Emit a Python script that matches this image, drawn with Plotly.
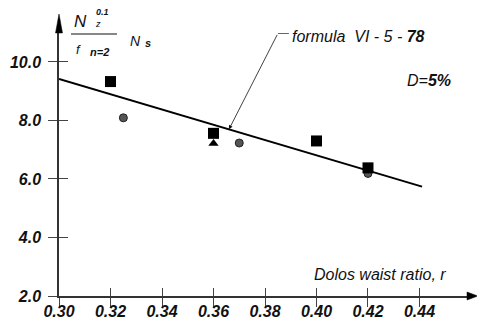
import plotly.graph_objects as go

# ---- data ----
x_ticks = [0.30, 0.32, 0.34, 0.36, 0.38, 0.40, 0.42, 0.44]
x_ticktext = ["0.30", "0.32", "0.34", "0.36", "0.38", "0.40", "0.42", "0.44"]
y_ticks = [2.0, 4.0, 6.0, 8.0, 10.0]
y_ticktext = ["2.0", "4.0", "6.0", "8.0", "10.0"]

square_x = [0.32, 0.36, 0.40, 0.42]
square_y = [9.33, 7.56, 7.30, 6.38]
circle_x = [0.325, 0.37, 0.42]
circle_y = [8.09, 7.23, 6.19]
triangle_x = [0.36]
triangle_y = [7.21]

fit_x = [0.30, 0.441]
fit_y = [9.42, 5.74]

X_RANGE = [0.30, 0.45845]
Y_RANGE = [2.0, 10.99]

FONT = "Liberation Sans, Arial, sans-serif"
ML, MR, MT, MB = 59, 10, 33, 34

fig = go.Figure()

fig.add_trace(go.Scatter(x=fit_x, y=fit_y, mode="lines",
                         line=dict(color="black", width=2), hoverinfo="skip"))
fig.add_trace(go.Scatter(x=circle_x, y=circle_y, mode="markers",
                         marker=dict(symbol="circle", size=8, color="#555555",
                                     line=dict(color="#222222", width=1))))
fig.add_trace(go.Scatter(x=triangle_x, y=triangle_y, mode="markers",
                         marker=dict(symbol="triangle-up", size=9, color="black")))
fig.add_trace(go.Scatter(x=square_x, y=square_y, mode="markers",
                         marker=dict(symbol="square", size=11, color="black")))
# invisible trace for the overlay axes (inner half of crossing ticks)
fig.add_trace(go.Scatter(x=[X_RANGE[0]], y=[Y_RANGE[0]], xaxis="x2", yaxis="y2",
                         mode="markers", marker=dict(opacity=0), hoverinfo="skip"))

tickfont = dict(family=FONT, size=16, color="#111111", style="italic", weight="bold")

fig.update_layout(
    width=477, height=330,
    margin=dict(l=ML, r=MR, t=MT, b=MB, autoexpand=False),
    paper_bgcolor="white", plot_bgcolor="white",
    showlegend=False,
    xaxis=dict(range=X_RANGE, showgrid=False, zeroline=False, automargin=False,
               showline=True, linecolor="#333333", linewidth=1.5,
               ticks="outside", ticklen=9, tickwidth=1, tickcolor="#444444",
               tickmode="array", tickvals=x_ticks, ticktext=x_ticktext,
               tickfont=tickfont, ticklabelstandoff=-9),
    yaxis=dict(range=Y_RANGE, showgrid=False, zeroline=False, automargin=False,
               showline=True, linecolor="#333333", linewidth=1.5,
               ticks="outside", ticklen=9, tickwidth=1, tickcolor="#444444",
               tickmode="array", tickvals=y_ticks, ticktext=y_ticktext,
               tickfont=tickfont, ticklabelstandoff=4),
    xaxis2=dict(overlaying="x", matches="x", anchor="y", side="bottom",
                showgrid=False, zeroline=False, showline=False,
                ticks="inside", ticklen=8, tickwidth=1, tickcolor="#444444",
                tickmode="array", tickvals=x_ticks, showticklabels=False),
    yaxis2=dict(overlaying="y", matches="y", anchor="x", side="left",
                showgrid=False, zeroline=False, showline=False,
                ticks="inside", ticklen=9, tickwidth=1, tickcolor="#444444",
                tickmode="array", tickvals=y_ticks, showticklabels=False),
)

# axis arrowheads
fig.add_shape(type="path", xref="paper", yref="paper", xsizemode="pixel", ysizemode="pixel",
              xanchor=1, yanchor=0, path="M 0,4 L 11,0 L 0,-4 Z",
              fillcolor="black", line=dict(color="black", width=0.5))
fig.add_shape(type="path", xref="paper", yref="paper", xsizemode="pixel", ysizemode="pixel",
              xanchor=0, yanchor=1, path="M -3.5,0 L 3.5,0 L 0,19 Z",
              fillcolor="black", line=dict(color="black", width=0.5))


def px_text(text, px, py, size, bold=False, xanchor="center", align="center"):
    fig.add_annotation(xref="paper", yref="paper", x=0, y=1,
                       xshift=px - ML, yshift=MT - py,
                       text=text, showarrow=False, xanchor=xanchor, yanchor="middle",
                       align=align,
                       font=dict(family=FONT, size=size, color="#111111", style="italic",
                                 weight="bold" if bold else "normal"))


# y-axis label: N_z^0.1 / f_{n=2}  N_s
px_text("N", 80, 21.5, 17)
px_text("<b>0.1</b><br>z", 93, 18, 9, xanchor="left", align="left")
fig.add_shape(type="line", xref="paper", yref="paper", xsizemode="pixel", ysizemode="pixel",
              xanchor=0, yanchor=1, x0=71 - ML, x1=117 - ML, y0=MT - 34, y1=MT - 34,
              line=dict(color="#111111", width=1))
px_text("f", 78, 49, 13)
px_text("n=2", 99.5, 52, 11, bold=True)
px_text("N", 135, 41, 14)
px_text("s", 147.5, 43, 11, bold=True)

# x-axis title
fig.add_annotation(x=0.4511, y=2.72, xref="x", yref="y", xanchor="right", yanchor="middle",
                   text="Dolos waist ratio, r", showarrow=False,
                   font=dict(family=FONT, size=16, color="#111111", style="italic"))

# D=5%
fig.add_annotation(x=0.4437, y=9.35, xref="x", yref="y", xanchor="center", yanchor="middle",
                   text="D=<b>5%</b>", showarrow=False,
                   font=dict(family=FONT, size=16, color="#111111", style="italic"))

# formula leader
tip_x = 0.366
tip_y = fit_y[0] + (fit_y[1] - fit_y[0]) / (fit_x[1] - fit_x[0]) * (tip_x - fit_x[0])
fig.add_annotation(x=tip_x, y=tip_y, xref="x", yref="y", text="", showarrow=True,
                   ax=49, ay=-96, arrowhead=2, arrowsize=1, arrowwidth=0.8,
                   arrowcolor="#111111")
fig.add_shape(type="line", xref="x", yref="y", xsizemode="pixel", ysizemode="pixel",
              xanchor=tip_x, yanchor=tip_y, x0=49, x1=60, y0=96, y1=96,
              line=dict(color="#111111", width=0.8))
fig.add_annotation(x=tip_x, y=tip_y, xref="x", yref="y", text="formula  VI - 5 - <b>78</b>",
                   showarrow=False, xanchor="left", yanchor="middle", xshift=61, yshift=93,
                   font=dict(family=FONT, size=16, color="#111111", style="italic"))

fig.write_html("out.html", config={"displayModeBar": False},
               post_script="document.body.style.margin='0px';")
